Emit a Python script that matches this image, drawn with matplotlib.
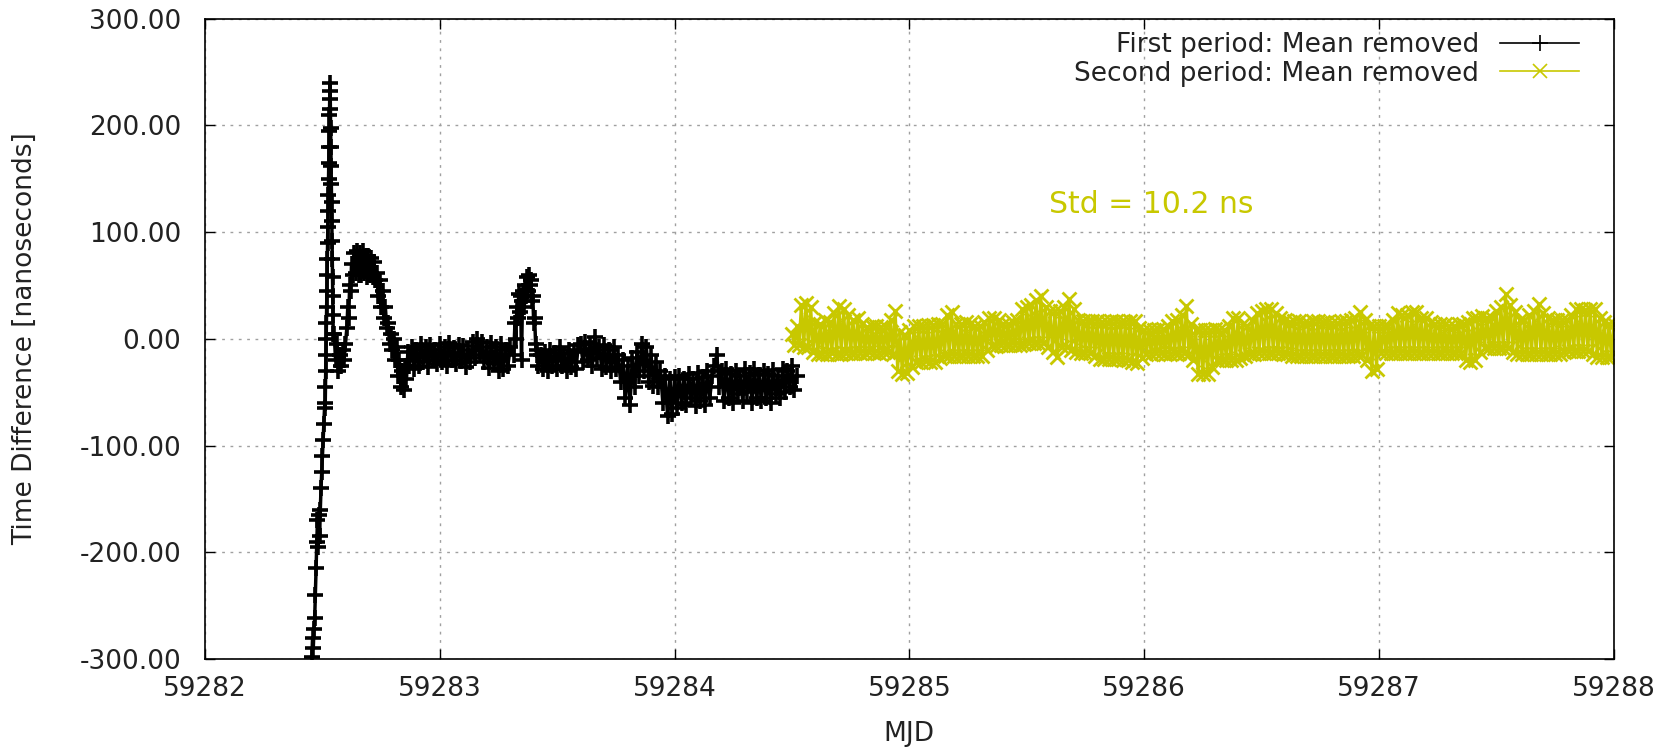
import numpy as np
import matplotlib
matplotlib.use("Agg")
import matplotlib.pyplot as plt
from matplotlib.ticker import FormatStrFormatter

# first period (mean removed), MJD / ns
first_mjd = [
    59282.455, 59282.458, 59282.461, 59282.464, 59282.467, 59282.470, 59282.473, 59282.476,
    59282.479, 59282.482, 59282.485, 59282.488, 59282.491, 59282.494, 59282.497, 59282.500,
    59282.503, 59282.506, 59282.509,
    59282.512, 59282.513, 59282.514, 59282.515, 59282.516, 59282.517, 59282.518, 59282.519,
    59282.520, 59282.521, 59282.522, 59282.523, 59282.524, 59282.525, 59282.526, 59282.527,
    59282.528, 59282.529, 59282.530, 59282.531, 59282.532,
    59282.533, 59282.534, 59282.535, 59282.536, 59282.537, 59282.538, 59282.539, 59282.540,
    59282.541, 59282.542, 59282.543, 59282.544, 59282.545, 59282.546,
    59282.550, 59282.556, 59282.562, 59282.568, 59282.574, 59282.580, 59282.586, 59282.592,
    59282.598, 59282.604, 59282.608, 59282.612, 59282.616, 59282.620, 59282.624, 59282.630,
    59282.636, 59282.642, 59282.648, 59282.654, 59282.660, 59282.666, 59282.672, 59282.678,
    59282.684, 59282.690, 59282.696, 59282.702, 59282.708, 59282.714, 59282.720, 59282.726,
    59282.732, 59282.738, 59282.744, 59282.750, 59282.756, 59282.762, 59282.768, 59282.774,
    59282.780, 59282.786, 59282.792, 59282.798, 59282.804, 59282.810, 59282.816, 59282.822,
    59282.828, 59282.834, 59282.840, 59282.846, 59282.852, 59282.858, 59282.864, 59282.870,
    59282.88, 59282.89, 59282.90, 59282.91, 59282.92, 59282.93, 59282.94, 59282.95,
    59282.96, 59282.97, 59282.98, 59282.99, 59283.00, 59283.01, 59283.02, 59283.03,
    59283.04, 59283.05, 59283.06, 59283.07, 59283.08, 59283.09, 59283.10, 59283.11,
    59283.12, 59283.13, 59283.14, 59283.15, 59283.16, 59283.17, 59283.18, 59283.19,
    59283.20, 59283.21, 59283.22, 59283.23, 59283.24, 59283.25, 59283.26, 59283.27,
    59283.28, 59283.29, 59283.30,
    59283.315, 59283.320, 59283.324, 59283.328, 59283.332, 59283.336, 59283.340, 59283.344,
    59283.348, 59283.352, 59283.356, 59283.360, 59283.364, 59283.368, 59283.372, 59283.376,
    59283.380, 59283.384, 59283.388, 59283.392, 59283.396, 59283.400, 59283.404, 59283.408,
    59283.412, 59283.416, 59283.420,
    59283.43, 59283.44, 59283.45, 59283.46, 59283.47, 59283.48, 59283.49, 59283.50,
    59283.51, 59283.52, 59283.53, 59283.54, 59283.55, 59283.56, 59283.57, 59283.58,
    59283.59, 59283.60, 59283.61, 59283.62, 59283.63, 59283.64, 59283.65, 59283.66,
    59283.67, 59283.68, 59283.69, 59283.70, 59283.71, 59283.72, 59283.73, 59283.74,
    59283.75, 59283.76, 59283.77, 59283.78, 59283.79, 59283.80, 59283.81, 59283.82,
    59283.83, 59283.84, 59283.85, 59283.86, 59283.87, 59283.88, 59283.89, 59283.90,
    59283.91, 59283.92, 59283.93, 59283.94, 59283.95, 59283.96, 59283.97, 59283.98,
    59283.99, 59284.00, 59284.01, 59284.02, 59284.03, 59284.04, 59284.05, 59284.06,
    59284.07, 59284.08, 59284.09, 59284.10, 59284.11, 59284.12, 59284.13, 59284.14,
    59284.15, 59284.16, 59284.17, 59284.18, 59284.19, 59284.20, 59284.21, 59284.22,
    59284.23, 59284.24, 59284.25, 59284.26, 59284.27, 59284.28, 59284.29, 59284.30,
    59284.31, 59284.32, 59284.33, 59284.34, 59284.35, 59284.36, 59284.37, 59284.38,
    59284.39, 59284.40, 59284.41, 59284.42, 59284.43, 59284.44, 59284.45, 59284.46,
    59284.47, 59284.48, 59284.49, 59284.50, 59284.51, 59284.52,
]
first_td = [
    -298, -280, -290, -272, -262, -240, -215, -190,
    -170, -195, -165, -185, -160, -140, -125, -110,
    -95, -80, -65,
    -60, -45, -30, -15, 0, 15, 30, 45,
    60, 75, 90, 105, 120, 135, 150, 165,
    180, 195, 210, 225, 240,
    232, 215, 198, 180, 162, 145, 128, 110,
    92, 75, 58, 40, 22, 5,
    5, -20, -5, -30, -15, -25, -10, -20,
    -5, 10, 30, 20, 50, 45, 70, 60,
    80, 62, 82, 60, 80, 60, 82, 62,
    78, 58, 78, 60, 76, 58, 72, 55,
    62, 40, 55, 30, 45, 20, 30, 10,
    15, -5, 5, -10, 0, -20, -8, -35,
    -20, -45, -30, -48, -25, -38, -12, -25,
    -8, -28, -10, -25, -5, -22, -8, -26,
    -6, -20, -10, -24, -5, -22, -8, -25,
    -4, -20, -9, -24, -6, -21, -7, -26,
    -10, -22, -3, -18, 0, -15, -3, -22,
    -8, -27, -4, -24, -8, -30, -5, -28,
    -10, -25, -8,
    -15, 15, 0, 30, 20, 42, 25, 40,
    -20, 35, 45, 30, 50, 40, 58, 45,
    60, 50, 55, 35, 40, 15, 20, -5,
    -15, -10, -25,
    -15, -28, -12, -30, -10, -25, -13, -28,
    -8, -25, -14, -30, -10, -26, -12, -28,
    -6, -5, -22, -3, -20, -5, -25, 2,
    -18, -8, -28, -6, -26, -10, -30, -8,
    -28, -15, -40, -20, -55, -25, -62, -18,
    -45, -12, -35, -5, -30, -8, -40, -15,
    -44, -22, -45, -30, -60, -35, -72, -38,
    -70, -36, -65, -35, -60, -38, -62, -33,
    -55, -38, -63, -32, -58, -36, -62, -30,
    -55, -35, -25, -15, -45, -30, -58, -28,
    -55, -33, -60, -30, -52, -35, -58, -28,
    -50, -32, -60, -28, -55, -34, -58, -30,
    -55, -33, -60, -29, -52, -35, -55, -28,
    -50, -30, -45, -25, -48, -35,
]

# second period (mean removed): one reading every 0.01 d from MJD 59284.50 to 59288.00
second_start = 59284.50
second_step = 0.01
second_td = [
    5, -6, 12, -6, 32, -8, 34, -8, 30, -12,        # 59284.50
    16, -14, 14, -14, 18, -14, 16, -13, 24, -14,   # 59284.60
    31, -14, 28, -13, 22, -13, 18, -13, 20, -13,   # 59284.70
    14, -13, 11, -12, 12, -13, 12, -13, 11, -12,   # 59284.80
    11, -12, 18, -14, 26, -30, 6, -33, 4, -32,     # 59284.90
    8, -26, 12, -22, 12, -22, 12, -21, 13, -22,    # 59285.00
    13, -22, 14, -18, 14, -16, 22, -16, 25, -16,   # 59285.10
    14, -16, 14, -16, 16, -16, 14, -16, 12, -16,   # 59285.20
    12, -16, 16, -10, 20, -7, 20, -7, 18, -6,      # 59285.30
    14, -6, 14, -6, 16, -6, 18, -6, 28, -5,        # 59285.40
    30, -4, 32, -4, 36, -4, 40, -4, 30, -8,        # 59285.50
    26, -12, 26, -17, 26, -8, 30, -8, 37, -10,     # 59285.60
    28, -12, 18, -13, 17, -13, 17, -13, 17, -16,   # 59285.70
    17, -19, 16, -19, 16, -19, 17, -19, 17, -19,   # 59285.80
    16, -20, 16, -20, 17, -22, 17, -23, 10, -18,   # 59285.90
    8, -14, 8, -14, 8, -13, 9, -13, 9, -14,        # 59286.00
    12, -14, 17, -13, 18, -13, 22, -13, 31, -14,   # 59286.10
    14, -20, 8, -33, 8, -33, 8, -33, 8, -26,       # 59286.20
    9, -20, 8, -20, 8, -20, 12, -20, 20, -20,      # 59286.30
    20, -18, 14, -16, 12, -14, 18, -14, 24, -13,   # 59286.40
    26, -13, 28, -13, 28, -13, 24, -13, 20, -14,   # 59286.50
    18, -14, 16, -16, 17, -16, 17, -16, 15, -16,   # 59286.60
    15, -16, 17, -16, 17, -16, 16, -16, 16, -16,   # 59286.70
    15, -16, 15, -16, 17, -16, 17, -16, 18, -16,   # 59286.80
    20, -15, 25, -15, 18, -20, 12, -30, 12, -28,   # 59286.90
    12, -13, 12, -13, 12, -13, 18, -13, 24, -13,   # 59287.00
    22, -13, 22, -13, 25, -13, 25, -13, 20, -13,   # 59287.10
    20, -13, 16, -13, 14, -13, 14, -13, 14, -13,   # 59287.20
    12, -13, 12, -13, 14, -13, 14, -20, 16, -22,   # 59287.30
    20, -20, 20, -12, 21, -9, 20, -9, 20, -9,      # 59287.40
    26, -9, 30, -9, 42, -9, 32, -12, 25, -14,      # 59287.50
    18, -14, 18, -14, 22, -14, 26, -14, 33, -14,   # 59287.60
    24, -14, 20, -14, 18, -14, 18, -14, 18, -12,   # 59287.70
    18, -11, 22, -11, 28, -11, 28, -11, 27, -11,   # 59287.80
    28, -14, 28, -17, 20, -17, 16, -17, 14, -17,   # 59287.90
    14,                                            # 59288.00
]
second_mjd = np.round(second_start + second_step * np.arange(len(second_td)), 2)

std_text = "Std = 10.2 ns"
yellow = "#c8c800"
text_col = "#222222"

fig = plt.figure(figsize=(16.67, 7.48), dpi=100)
ax = fig.add_axes([0.123, 0.119, 0.845, 0.856])

ax.plot(first_mjd, first_td, color="black", lw=2.5, marker="+", ms=12, mew=2.6,
        label="First period: Mean removed", zorder=3)
ax.plot(second_mjd, second_td, color=yellow, lw=2.2, marker="x", ms=10, mew=2.0,
        label="Second period: Mean removed", zorder=2)

ax.set_xlim(59282, 59288)
ax.set_ylim(-300, 300)
ax.set_xticks(np.arange(59282, 59289, 1))
ax.set_yticks(np.arange(-300, 301, 100))
ax.yaxis.set_major_formatter(FormatStrFormatter("%.2f"))
ax.xaxis.set_major_formatter(FormatStrFormatter("%d"))

ax.grid(True, color="#a0a0a0", lw=1.0, ls=(0, (2, 4)))
ax.set_axisbelow(True)
ax.tick_params(direction="in", top=True, right=True, length=7, width=1,
               labelsize=19, labelcolor=text_col)
ax.tick_params(axis="x", pad=12)
ax.tick_params(axis="y", pad=17)
for s in ax.spines.values():
    s.set_linewidth(1.2)

ax.set_xlabel("MJD", fontsize=19, color=text_col, labelpad=14)
ax.set_ylabel("Time Difference [nanoseconds]", fontsize=19, color=text_col, labelpad=30)

ax.text(59285.596, 125.5, std_text, color=yellow, fontsize=21.5, va="center", ha="left")

leg = ax.legend(loc="upper right", frameon=False, markerfirst=False, fontsize=19,
                handlelength=3.0, borderaxespad=0.1, labelspacing=0.1,
                bbox_to_anchor=(0.985, 1.0))
for h in leg.legend_handles:
    h.set_linewidth(1.2)
    h.set_markeredgewidth(1.2)
for t in leg.get_texts():
    t.set_color(text_col)

fig.savefig("out.png", dpi=100)
